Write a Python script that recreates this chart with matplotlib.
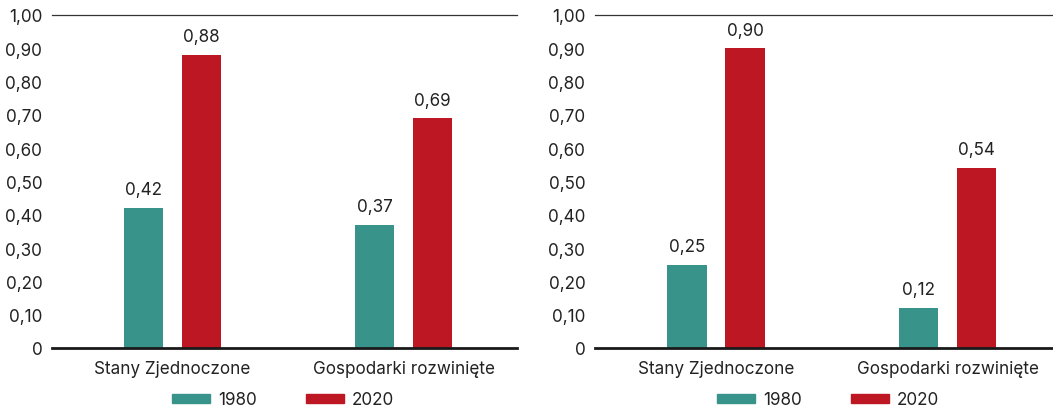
import matplotlib.pyplot as plt
import numpy as np
from matplotlib.patches import Patch

plt.rcParams['font.family'] = ['Inter', 'DejaVu Sans']

categories = ['Stany Zjednoczone', 'Gospodarki rozwinięte']
years = ['1980', '2020']
left_1980 = [0.42, 0.37]
left_2020 = [0.88, 0.69]
right_1980 = [0.25, 0.12]
right_2020 = [0.90, 0.54]

teal = '#38948B'
red = '#BE1724'
fs = 12.3


def fmt(v):
    return '0' if v == 0 else '{:.2f}'.format(v).replace('.', ',')


def draw_panel(ax, v1980, v2020, xlim):
    x = np.arange(len(categories))
    w = 0.17
    b1 = ax.bar(x - 0.125, v1980, w, color=teal)
    b2 = ax.bar(x + 0.125, v2020, w, color=red)
    for bars, vals in ((b1, v1980), (b2, v2020)):
        for b, v in zip(bars, vals):
            ax.annotate(fmt(v), (b.get_x() + b.get_width() / 2, v),
                        xytext=(0, 7), textcoords='offset points',
                        ha='center', va='bottom', fontsize=fs, color='#222222')
    ax.set_ylim(0, 1.0)
    ax.set_xlim(*xlim)
    ticks = np.round(np.arange(0, 1.01, 0.1), 2)
    ax.set_yticks(ticks)
    ax.set_yticklabels([fmt(t) for t in ticks])
    ax.set_xticks(x)
    ax.set_xticklabels(categories)
    ax.tick_params(axis='both', length=0, labelsize=fs, colors='#222222')
    ax.tick_params(axis='y', pad=7)
    ax.tick_params(axis='x', pad=9)
    for s in ('left', 'right'):
        ax.spines[s].set_visible(False)
    ax.spines['top'].set_linewidth(0.9)
    ax.spines['top'].set_color('#333333')
    ax.spines['bottom'].set_linewidth(2.0)
    ax.spines['bottom'].set_color('#1a1a1a')


fig = plt.figure(figsize=(10.53, 4.10), dpi=100)
ax1 = fig.add_axes([52 / 1053, 61 / 410, 465 / 1053, 333 / 410])
ax2 = fig.add_axes([595 / 1053, 61 / 410, 458 / 1053, 333 / 410])
draw_panel(ax1, left_1980, left_2020, (-0.52, 1.49))
draw_panel(ax2, right_1980, right_2020, (-0.523, 1.455))

handles = [Patch(color=teal), Patch(color=red)]
for cx in (283 / 1053, 828 / 1053):
    fig.legend(handles, years, loc='center', bbox_to_anchor=(cx, 9 / 410),
               ncol=2, frameon=False, fontsize=fs, handlelength=2.2,
               handleheight=0.42, handletextpad=0.45, columnspacing=2.9,
               labelcolor='#222222', borderpad=0.1)

fig.savefig('out.png', dpi=100)
